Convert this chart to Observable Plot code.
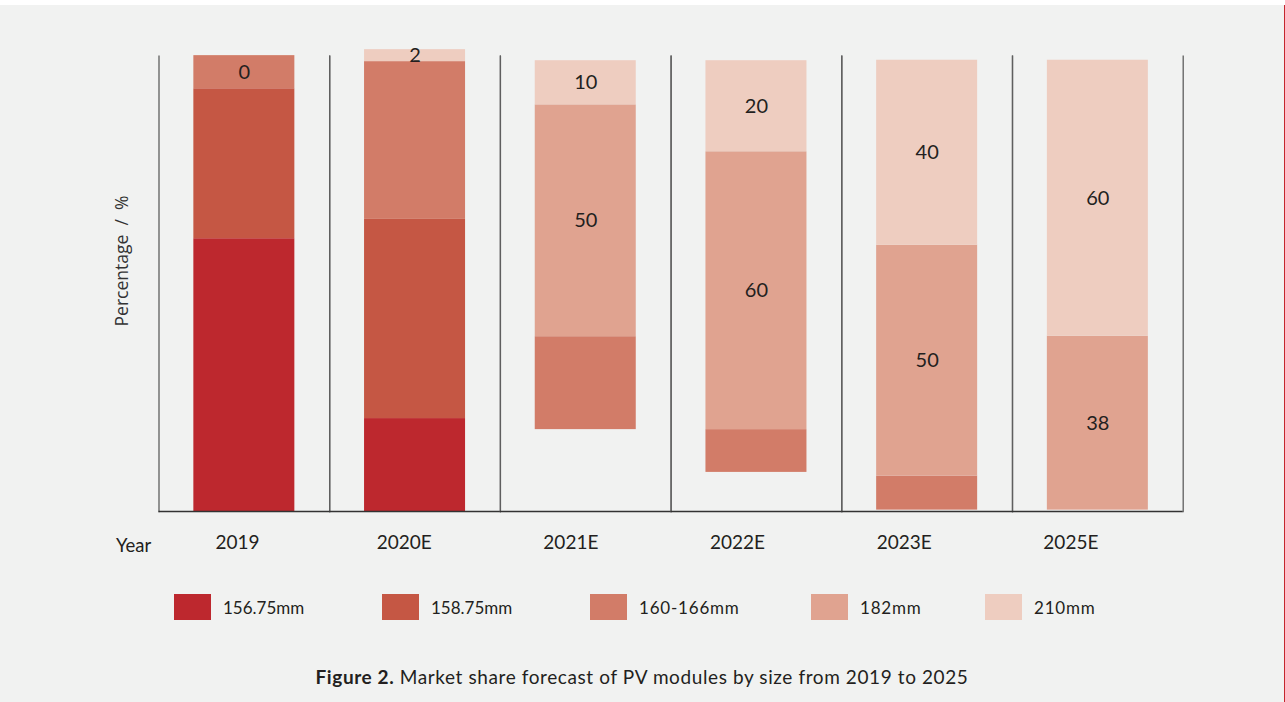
<!DOCTYPE html>
<html>
<head>
<meta charset="utf-8">
<script src="https://cdn.jsdelivr.net/npm/d3@7"></script>
<script src="https://cdn.jsdelivr.net/npm/@observablehq/plot@0.6"></script>
<style>
  html, body { margin: 0; padding: 0; background: #ffffff; }
  #page { position: absolute; left: 0; top: 5px; width: 1284px; height: 697px; background: #f1f2f1;
          border-right: 1px solid #c4262e; font-family: Lato, "Open Sans", sans-serif; color: #231f20; overflow: hidden; }
  #chart { position: absolute; left: 0; top: 0; }
  #xaxis { position: absolute; left: 0; top: 525px; }
  #yearlab { position: absolute; left: 116px; top: 529px; height: 22px; line-height: 22px; font-size: 18.5px; }
  #ylab { position: absolute; left: 21px; top: 245px; width: 200px; height: 22px; line-height: 22px; text-align: center;
          font-family: "Open Sans", sans-serif; font-size: 17.5px; color: #333; transform: rotate(-90deg); white-space: pre; }
  #legend { position: absolute; left: 0; top: 589px; height: 26px; width: 1284px; }
  .item { position: absolute; top: 0; height: 26px; display: flex; align-items: center; font-size: 17px; white-space: nowrap; }
  .sw { width: 37px; height: 26px; margin-right: 12px; }
  #caption { position: absolute; left: 0; top: 660px; width: 1284px; height: 24px; line-height: 24px; text-align: center;
             font-size: 19px; letter-spacing: 0.6px; }
</style>
</head>
<body>
<div id="page">
  <div id="chart"></div>
  <div id="xaxis"></div>
  <div id="yearlab">Year</div>
  <div id="ylab">Percentage  /  %</div>
  <div id="legend"></div>
  <div id="caption"><b>Figure 2.</b> Market share forecast of PV modules by size from 2019 to 2025</div>
</div>
<script>
// ---- data (percent) ----
const years = ["2019", "2020E", "2021E", "2022E", "2023E", "2025E"];
const sizes = ["156.75mm", "158.75mm", "160-166mm", "182mm", "210mm"];
const colors = ["#bd282e", "#c55744", "#d27c68", "#e0a390", "#eecdc0"];
// share left unfilled at the bottom of some bars in the original figure
const unfilled = [0, 0, 17.8, 8.5, 0.3, 0.3];
const s156 = [59.3, 20.2, 0, 0, 0, 0];
const s158 = [32.6, 43.3, 0, 0, 0, 0];
const s160 = [7.2, 34.3, 20.2, 9.3, 7.4, 0];
const s182 = [0, 0, 50.4, 60.4, 50.2, 37.8];
const s210 = [0, 2.6, 9.6, 19.8, 40.2, 60];
const lab156 = ["", "", "", "", "", ""];
const lab158 = ["", "", "", "", "", ""];
const lab160 = ["0", "", "", "", "", ""];
const lab182 = ["", "", "50", "60", "50", "38"];
const lab210 = ["", "2", "10", "20", "40", "60"];

const series = [s156, s158, s160, s182, s210];
const labels = [lab156, lab158, lab160, lab182, lab210];
const rows = [];
years.forEach((year, i) => {
  rows.push({year, size: "unfilled", value: unfilled[i], label: ""});
  sizes.forEach((size, k) => rows.push({year, size, value: series[k][i], label: labels[k][i]}));
});

const chart = Plot.plot({
  width: 1284,
  height: 520,
  marginLeft: 158.5,
  marginRight: 101.3,
  marginTop: 50.6,
  marginBottom: 14,
  style: {background: "transparent", fontFamily: "Lato, sans-serif", overflow: "visible"},
  fx: {domain: years, padding: 0, round: false, axis: null},
  x: {domain: ["bar"], paddingInner: 0, paddingOuter: 0.345, round: false, axis: null},
  y: {domain: [0, 99], axis: null},
  color: {domain: ["unfilled", ...sizes], range: ["transparent", ...colors]},
  marks: [
    Plot.barY(rows, {fx: "year", x: () => "bar", y: "value", fill: "size"}),
    Plot.text(rows, Plot.stackY({fx: "year", x: () => "bar", y: "value", text: "label", fontSize: 20, fill: "#231f20"})),
    Plot.frame({anchor: "left", stroke: "#5f5f5f", strokeWidth: 1.3}),
    Plot.frame({anchor: "right", stroke: "#5f5f5f", strokeWidth: 1.3}),
    Plot.ruleY([0], {stroke: "#333333", strokeWidth: 1.5})
  ]
});
document.getElementById("chart").append(chart);

const xaxis = Plot.plot({
  width: 1284,
  height: 40,
  marginLeft: 153.7,
  marginRight: 130.3,
  marginTop: 0,
  marginBottom: 40,
  style: {background: "transparent", fontFamily: "Lato, sans-serif", color: "#231f20"},
  x: {domain: years, round: false},
  marks: [Plot.axisX({anchor: "bottom", tickSize: 0, tickPadding: 5, fontSize: 19, label: null})]
});
document.getElementById("xaxis").append(xaxis);

// legend
const legendLeft = [174, 382, 590, 811, 985];
const legend = document.getElementById("legend");
sizes.forEach((s, k) => {
  const it = document.createElement("div");
  it.className = "item";
  it.style.left = legendLeft[k] + "px";
  const sw = document.createElement("div");
  sw.className = "sw";
  sw.style.background = colors[k];
  const t = document.createElement("span");
  t.textContent = s;
  if (k >= 2) t.style.letterSpacing = "0.8px";
  it.append(sw, t);
  legend.append(it);
});
</script>
</body>
</html>
